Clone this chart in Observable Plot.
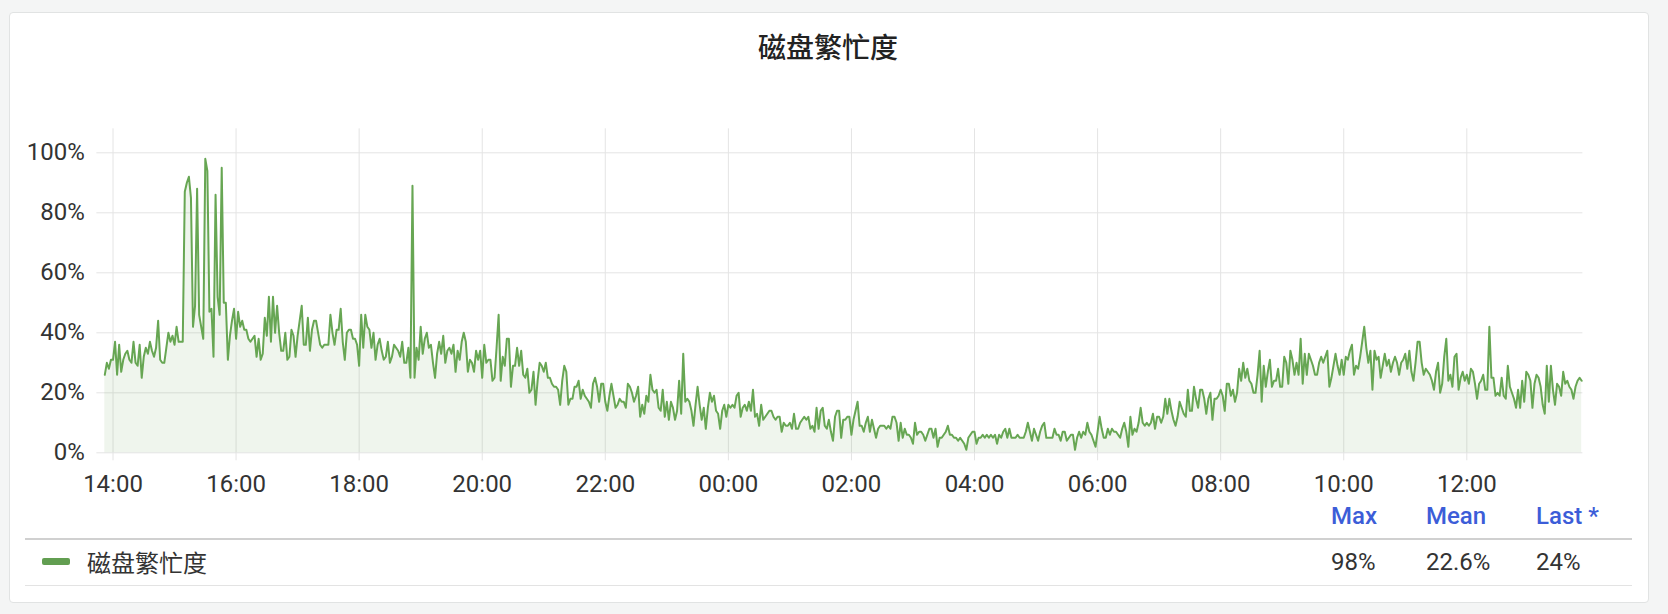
<!DOCTYPE html>
<html><head><meta charset="utf-8">
<script src="https://cdn.jsdelivr.net/npm/d3@7"></script>
<script src="https://cdn.jsdelivr.net/npm/@observablehq/plot@0.6"></script>
<style>
html,body{margin:0;padding:0;background:#f4f5f5;}
#root{position:relative;width:1668px;height:614px;overflow:hidden;font-family:Roboto,"Noto Sans CJK SC",sans-serif;}
#panel{position:absolute;left:9px;top:12px;width:1638px;height:589px;background:#fff;border:1px solid #e1e3e3;border-radius:4px;}
#title{position:absolute;left:0;width:1656px;top:28px;text-align:center;font-family:"Noto Sans CJK SC";font-weight:500;font-size:28px;line-height:36px;color:#222;}
#chart{position:absolute;left:0;top:0;}
.hdr{position:absolute;top:501px;line-height:30px;font-size:24px;font-weight:500;color:#3c5dd8;font-family:Roboto;}
.val{position:absolute;top:547px;line-height:30px;font-size:24px;color:#333;font-family:Roboto;}
#lname{position:absolute;left:87px;top:547px;line-height:30px;font-size:24px;color:#333;font-family:"Noto Sans CJK SC";}
#swatch{position:absolute;left:42px;top:558px;width:28px;height:7px;border-radius:2px;background:#629e51;}
#line1{position:absolute;left:25px;width:1607px;top:538px;height:2px;background:#d0d0d0;}
#line2{position:absolute;left:25px;width:1607px;top:585px;height:1px;background:#e3e3e3;}
</style></head>
<body>
<div id="root">
  <div id="panel"></div>
  <div id="title"></div>
  <div id="chart"></div>
  <div id="line1"></div>
  <div id="line2"></div>
  <div id="swatch"></div>
  <div id="lname"></div>
</div>
<script>
const titleText = "磁盘繁忙度";
const seriesName = "磁盘繁忙度";
const statHeaders = ["Max", "Mean", "Last *"];
const statValues = ["98%", "22.6%", "24%"];
const statLeft = [1331, 1426, 1536];

// 2-minute samples, 13:52 -> 13:52 next day (percent)
const seg1 = [26,30,28,31,31,37,26,36,27,31,33,34,31,30,37,30,29,36,25,32,35,33,37,34,32,35,44,31,30,30,35,40,37,39,36,42,37,37,37,
87,90,92,85,42,49,88,46,42,38,98,94,47,48,32,86,52,46,95,50,50,31,
39,44,48,38,47,42,44,41,41,38,37,38,39,32,38,31,33,45,39,52,37,52,40,49,40,34,34,40,31,32,41,39,32,39,44,49,36,36,45,34,41,44,44,40,36,35,36,36,36,46,40,36,41,41,48,37,31,40,41];
const seg2 = [41,38,38,36,29,46,35,46,42,41,35,40,31,36,38,34,31,32,37,30,32,36,35,34,32,37,30,30,35,25,
89,25,35,31,42,33,38,40,35,36,30,25,33,37,33,39,30,34,35,33,36,27,34,31,37,40,37,27,31,30,
27,34,31,34,25,36,30,31,31,24,25,35,46,24,32,29,38,38,22,29,29,35,29,34,26,25,28,20,21,
27,16,24,30,29,27,30,25,25,23,22,22,21,16,24,29,27,16,18,18,22,22,24,18,21,19,18,17,15,23,25];
const seg3 = [22,17,23,23,17,14,19,23,19,15,16,18,17,17,15,23,22,20,17,19,22,12,16,13,19,17,26,21,20,
21,15,14,21,12,17,11,17,15,11,14,24,13,33,17,18,17,14,9,16,22,16,11,15,8,15,20,17,19,
14,13,8,14,16,12,16,15,16,15,19,20,12,15,16,14,17,14,21,12,13,9,16,11,12,13,14,14,12,
11,12,12,7,10,9,9,10,8,13,8,8,10,11,12,11,12,8,9,7,15,8,14,15,9,8,11,7,4,12,14];
const seg4 = [14,5,11,11,12,12,6,11,14,17,9,9,7,10,12,7,11,8,5,8,9,9,9,8,9,8,12,12,10,
4,10,5,8,6,6,5,3,10,6,7,7,6,4,6,8,8,5,8,2,5,5,6,7,9,6,6,5,5,
4,5,4,3,1,5,6,7,7,3,5,5,6,5,6,5,6,5,6,3,6,5,7,8,5,8,5,5,5,6,
5,5,5,7,10,7,4,8,6,4,7,9,10,5,5,5,5,8,6,6,4,7,7,4,5,6,6,1,5,7,5,7];
const seg5 = [6,10,7,6,4,2,7,12,8,5,5,8,6,8,7,7,6,5,8,10,7,2,12,6,8,7,10,15,10,
9,10,9,10,13,8,12,12,10,12,18,13,18,14,11,9,12,17,15,13,12,21,14,14,22,18,15,21,21,
18,13,18,20,11,18,18,19,21,19,14,23,23,19,21,17,20,28,24,30,25,28,24,23,20,20,26,34,17,29,
22,27,31,22,24,24,28,22,22,32,30,23,34,31,26,30,26,38,23,33,26,33,31,29,26,26,30,32,30,32,34,22];
const seg6 = [25,29,33,29,26,31,26,32,31,34,36,26,29,28,32,37,42,35,30,
34,21,34,31,32,25,29,33,29,31,27,30,32,30,26,30,31,33,28,34,27,24,30,37,37,30,26,28,27,
26,24,21,27,30,20,23,32,38,24,26,22,32,33,21,25,27,24,26,23,28,27,23,18,23,24,26,21,21,
42,25,25,19,20,19,25,19,18,29,22,20,18,15,21,15,24,17,27,26,24,15,23,26,25,22,16,13,29,17,
29,21,16,23,22,19,27,23,24,22,21,18,22,24,25,24];

const xTickTimes = ["2024-01-01T14:00Z","2024-01-01T16:00Z","2024-01-01T18:00Z","2024-01-01T20:00Z","2024-01-01T22:00Z","2024-01-02T00:00Z","2024-01-02T02:00Z","2024-01-02T04:00Z","2024-01-02T06:00Z","2024-01-02T08:00Z","2024-01-02T10:00Z","2024-01-02T12:00Z"];
const xRange = ["2024-01-01T13:44:18Z", "2024-01-02T13:53:12Z"];
const startTime = "2024-01-01T13:52:00Z";
const stepMinutes = 2;
const yTicks = [0, 20, 40, 60, 80, 100];
const yDomain = [0, 108];

const values = [...seg1, ...seg2, ...seg3, ...seg4, ...seg5, ...seg6];
const t0 = new Date(startTime).getTime();
const data = values.map((v, i) => ({t: new Date(t0 + i * stepMinutes * 60000), v}));
const xTicks = xTickTimes.map(s => new Date(s));

const chart = Plot.plot({
  width: 1668, height: 500,
  marginLeft: 96.4, marginRight: 85.6, marginTop: 128.3, marginBottom: 47.7,
  style: {background: "transparent", fontFamily: "Roboto", fontSize: "24px", color: "#333", overflow: "visible"},
  x: {type: "utc", domain: xRange.map(s => new Date(s)), ticks: xTicks, tickFormat: d3.utcFormat("%H:%M"), tickSize: 0, tickPadding: 22, label: null},
  y: {domain: yDomain, ticks: yTicks, tickFormat: d => d + "%", tickSize: 0, tickPadding: 12, label: null},
  marks: [
    Plot.ruleY(yTicks, {stroke: "#e4e4e4"}),
    Plot.ruleX(xTicks, {stroke: "#e4e4e4", insetBottom: -8}),
    Plot.areaY(data, {x: "t", y: "v", fill: "#629e51", fillOpacity: 0.1}),
    Plot.lineY(data, {x: "t", y: "v", stroke: "#67a653", strokeWidth: 2})
  ]
});
document.getElementById("chart").appendChild(chart);
document.getElementById("title").textContent = titleText;
document.getElementById("lname").textContent = seriesName;
const root = document.getElementById("root");
statHeaders.forEach((h, i) => {
  const d = document.createElement("div");
  d.className = "hdr"; d.style.left = statLeft[i] + "px"; d.textContent = h;
  root.appendChild(d);
  const v = document.createElement("div");
  v.className = "val"; v.style.left = statLeft[i] + "px"; v.textContent = statValues[i];
  root.appendChild(v);
});
</script>
</body></html>
